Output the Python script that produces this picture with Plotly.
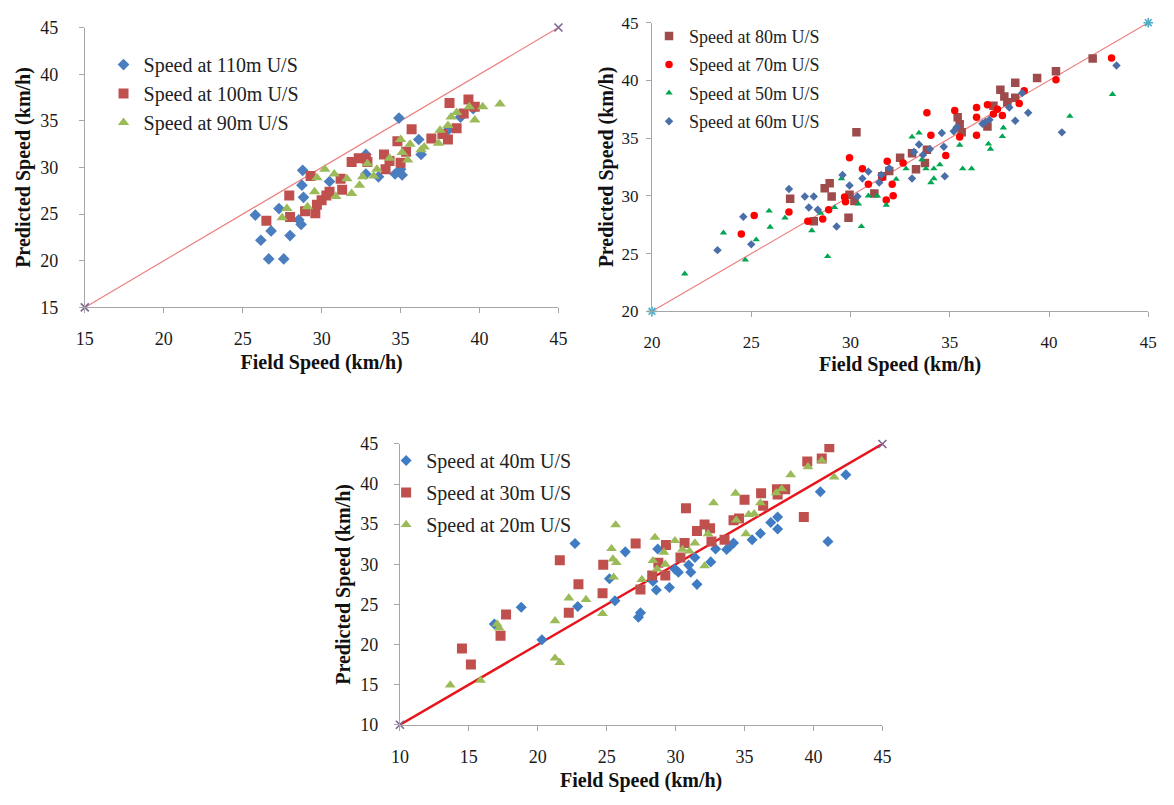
import plotly.graph_objects as go

# ---------------- data: top-left panel ----------------
s110_x = [25.8, 26.15, 26.65, 26.8, 27.3, 27.6, 28.0, 28.55, 28.7, 28.75, 28.8, 28.85, 30.5, 32.8, 32.8, 33.6, 34.65, 34.9, 35.0, 35.1, 36.15, 36.3, 38.0, 38.8, 39.6]
s110_y = [24.9, 22.2, 20.2, 23.2, 25.6, 20.2, 22.7, 24.4, 23.9, 28.1, 29.7, 26.8, 28.5, 29.3, 31.4, 29.0, 29.3, 35.3, 29.8, 29.2, 33.0, 31.4, 34.0, 35.4, 36.3]
s100_x = [26.5, 27.95, 28.0, 29.3, 28.95, 29.6, 29.7, 30.0, 30.3, 30.5, 31.2, 31.3, 31.9, 32.35, 32.8, 32.9, 33.95, 34.05, 34.3, 34.8, 35.0, 35.35, 35.7, 36.95, 37.65, 38.0, 38.1, 38.55, 39.0, 39.3, 39.7]
s100_y = [24.3, 27.0, 24.7, 29.1, 25.3, 25.1, 26.0, 26.5, 27.0, 27.4, 28.8, 27.6, 30.6, 31.0, 31.0, 30.6, 31.4, 29.8, 30.7, 32.8, 30.5, 31.7, 34.1, 33.1, 33.6, 33.0, 36.9, 34.2, 35.8, 37.3, 36.5]
s90_x = [27.5, 27.8, 29.1, 29.7, 29.55, 30.2, 30.8, 30.9, 31.6, 31.9, 32.4, 32.6, 32.9, 33.3, 33.5, 34.3, 35.0, 35.1, 35.45, 35.6, 36.3, 36.5, 37.4, 37.5, 38.0, 38.2, 38.55, 39.35, 39.7, 40.2, 41.3]
s90_y = [24.6, 25.6, 25.8, 28.9, 27.4, 29.8, 29.3, 26.9, 28.8, 27.2, 28.1, 29.0, 30.4, 29.1, 29.8, 31.0, 33.0, 31.6, 30.8, 32.5, 31.9, 32.2, 32.6, 34.0, 34.5, 35.4, 35.9, 36.5, 35.1, 36.5, 36.8]

# ---------------- data: top-right panel ----------------
s80_x = [26.96, 28.15, 28.7, 28.95, 29.05, 29.9, 29.95, 30.2, 30.3, 31.2, 31.6, 31.95, 32.5, 33.1, 33.3, 33.75, 33.85, 35.4, 35.5, 35.6, 36.9, 37.2, 37.55, 37.75, 37.9, 38.3, 38.3, 39.4, 40.35, 42.2]
s80_y = [29.75, 27.8, 30.65, 31.1, 29.95, 28.1, 30.1, 29.55, 35.5, 30.2, 31.7, 32.15, 33.3, 33.7, 32.3, 32.85, 34.0, 36.8, 36.2, 35.5, 36.0, 37.8, 39.2, 38.6, 38.1, 39.8, 38.5, 40.2, 40.8, 41.9]
s70_x = [24.5, 25.15, 26.9, 27.85, 28.6, 28.9, 29.7, 29.75, 29.95, 30.6, 30.9, 31.6, 31.8, 31.85, 32.1, 32.15, 32.65, 33.85, 34.05, 34.8, 35.25, 35.5, 36.35, 36.35, 36.35, 36.9, 37.2, 37.4, 37.65, 38.5, 38.75, 40.35, 43.15]
s70_y = [26.7, 28.3, 28.6, 27.8, 28.0, 28.8, 29.9, 29.5, 33.3, 32.35, 31.0, 31.6, 29.65, 33.0, 31.0, 30.0, 32.85, 37.2, 35.25, 33.5, 37.4, 35.1, 37.65, 36.8, 35.25, 37.9, 37.1, 37.5, 36.95, 38.0, 39.1, 40.05, 41.95]
s50_x = [21.65, 23.6, 24.7, 25.25, 25.9, 25.95, 26.7, 28.05, 28.5, 28.85, 29.2, 29.55, 30.4, 30.55, 30.9, 31.35, 31.8, 32.3, 32.8, 33.1, 33.45, 33.6, 33.8, 34.05, 34.2, 34.2, 34.5, 35.5, 35.65, 36.1, 36.95, 37.05, 37.65, 37.7, 41.05, 43.2]
s50_y = [23.25, 26.8, 24.45, 26.2, 28.7, 27.3, 28.1, 27.0, 28.5, 24.75, 29.0, 31.5, 29.3, 27.35, 30.0, 30.0, 29.2, 31.45, 32.35, 35.1, 35.45, 33.15, 32.35, 31.15, 32.35, 31.5, 32.7, 34.4, 32.35, 32.35, 34.5, 34.05, 35.15, 35.9, 36.9, 38.8]
s60_x = [23.3, 24.6, 25.0, 26.9, 27.7, 27.9, 28.15, 28.35, 29.3, 29.6, 29.95, 30.35, 30.6, 30.9, 31.45, 31.55, 31.95, 33.1, 33.2, 33.45, 33.65, 34.0, 34.6, 34.7, 34.75, 35.2, 35.35, 36.65, 36.8, 37.0, 38.0, 38.3, 38.65, 38.95, 40.65, 43.4]
s60_y = [25.3, 28.2, 25.8, 30.6, 29.95, 29.0, 29.95, 28.8, 27.35, 31.8, 30.9, 29.95, 31.5, 32.1, 31.15, 31.8, 32.4, 31.5, 33.8, 34.45, 33.55, 34.05, 35.45, 34.25, 31.7, 35.6, 35.95, 36.25, 36.4, 36.6, 37.65, 36.5, 38.9, 37.2, 35.5, 41.3]

# ---------------- data: bottom panel ----------------
s40_x = [16.85, 18.8, 20.3, 22.7, 22.9, 25.2, 25.6, 26.35, 27.3, 27.45, 28.35, 28.6, 28.7, 29.55, 29.95, 30.2, 30.95, 31.1, 31.4, 31.55, 32.55, 32.9, 33.7, 33.95, 34.2, 35.55, 36.15, 36.9, 37.4, 37.4, 40.5, 41.05, 42.35]
s40_y = [22.55, 24.65, 20.6, 32.6, 24.75, 28.2, 25.45, 31.55, 23.4, 23.95, 27.9, 26.8, 31.9, 27.1, 29.4, 29.0, 29.9, 29.0, 30.85, 27.5, 30.3, 31.9, 31.85, 32.25, 32.65, 33.05, 33.85, 35.2, 35.9, 34.4, 39.05, 32.85, 41.15]
s30_x = [14.5, 15.15, 17.3, 17.7, 21.6, 22.25, 22.95, 24.7, 24.75, 27.1, 27.45, 28.3, 28.75, 29.25, 29.3, 30.35, 30.65, 30.75, 31.55, 32.1, 32.5, 32.6, 33.55, 34.2, 34.6, 35.0, 36.2, 36.35, 37.35, 37.4, 37.95, 39.3, 39.55, 40.6, 41.15]
s30_y = [19.5, 17.5, 21.1, 23.75, 30.5, 23.95, 27.5, 26.4, 29.95, 32.6, 26.85, 28.6, 30.2, 28.6, 32.4, 30.85, 32.65, 37.0, 34.15, 34.95, 34.5, 32.85, 33.05, 35.5, 35.7, 38.05, 38.85, 37.3, 39.35, 38.7, 39.35, 35.9, 42.8, 43.2, 44.6]
s20_x = [13.65, 15.85, 17.05, 17.2, 21.25, 21.6, 21.25, 22.25, 23.5, 24.7, 25.35, 25.45, 25.5, 25.7, 25.65, 27.55, 28.35, 28.5, 28.65, 29.15, 29.25, 29.95, 30.5, 31.0, 31.4, 32.1, 32.35, 32.75, 34.35, 34.4, 35.1, 35.3, 35.7, 36.15, 37.3, 37.7, 38.35, 39.6, 40.6, 41.5]
s20_y = [14.95, 15.55, 22.55, 22.05, 18.3, 17.75, 22.95, 25.8, 25.6, 23.85, 31.95, 30.65, 28.4, 30.2, 34.9, 28.1, 30.45, 33.35, 29.4, 31.5, 30.0, 32.95, 31.85, 31.65, 32.65, 29.8, 33.8, 37.65, 38.85, 35.5, 33.8, 36.2, 36.3, 37.65, 38.9, 39.4, 41.15, 42.15, 42.95, 40.85]

# reference (1:1) lines
line1 = [15, 45]
line2 = [20, 45]
line3 = [10, 45]

tick1 = [15, 20, 25, 30, 35, 40, 45]
tick2 = [20, 25, 30, 35, 40, 45]
tick3 = [10, 15, 20, 25, 30, 35, 40, 45]

W, H = 1174, 805
FONT = "Liberation Serif"

def xd(a, b):
    return [a / W, b / W]

def yd(top, bottom):
    return [1 - bottom / H, 1 - top / H]

fig = go.Figure()

def pts(x, y, name, sym, color, size, xa, ya, leg, grp):
    fig.add_trace(go.Scatter(
        x=x, y=y, mode="markers", name=name, xaxis=xa, yaxis=ya,
        legend=leg, legendgroup=grp,
        marker=dict(symbol=sym, color=color, size=size, line=dict(width=0)),
    ))

def ref(v, xa, ya, lcolor, lwidth, msym, mcolor):
    fig.add_trace(go.Scatter(
        x=v, y=v, mode="lines+markers", xaxis=xa, yaxis=ya, showlegend=False,
        cliponaxis=False, hoverinfo="skip",
        line=dict(color=lcolor, width=lwidth),
        marker=dict(symbol=msym, size=8, color=mcolor, line=dict(color=mcolor, width=1.6)),
    ))

# top-left
ref(line1, "x", "y", "#ec8080", 1.2, "x-thin", "#7b6496")
pts(s110_x, s110_y, "Speed at 110m U/S", "diamond", "#4a7ebf", 9, "x", "y", "legend", "a1")
pts(s100_x, s100_y, "Speed at 100m U/S", "square", "#c0504d", 10, "x", "y", "legend", "a2")
pts(s90_x, s90_y, "Speed at 90m U/S", "triangle-up", "#9bbb59", 10, "x", "y", "legend", "a3")

# top-right
ref(line2, "x2", "y2", "#ec8080", 1.2, "asterisk-open", "#4bacc6")
pts(s80_x, s80_y, "Speed at 80m U/S", "square", "#9e4b4b", 8.5, "x2", "y2", "legend2", "b1")
pts(s70_x, s70_y, "Speed at 70m U/S", "circle", "#ff0000", 7.5, "x2", "y2", "legend2", "b2")
pts(s50_x, s50_y, "Speed at 50m U/S", "triangle-up", "#00a651", 6.5, "x2", "y2", "legend2", "b3")
pts(s60_x, s60_y, "Speed at 60m U/S", "diamond", "#4a6ea8", 6.5, "x2", "y2", "legend2", "b4")

# bottom
ref(line3, "x3", "y3", "#e8141c", 2.5, "x-thin", "#7b6496")
pts(s40_x, s40_y, "Speed at 40m U/S", "diamond", "#3f7cc4", 8.5, "x3", "y3", "legend3", "c1")
pts(s30_x, s30_y, "Speed at 30m U/S", "square", "#c0504d", 10, "x3", "y3", "legend3", "c2")
pts(s20_x, s20_y, "Speed at 20m U/S", "triangle-up", "#9bbb59", 9.5, "x3", "y3", "legend3", "c3")

title_font = dict(family=FONT, size=20, color="#111111")

def axis_common(fs):
    return dict(
        showgrid=False, zeroline=False, showline=True, linecolor="#a6a6a6", linewidth=1,
        ticks="outside", ticklen=5, tickcolor="#a6a6a6", tickwidth=1,
        tickfont=dict(family=FONT, size=fs, color="#1a1a1a"),
    )

def xaxis(dom, rng, tv, anchor, fs, tso, so):
    return dict(axis_common(fs), domain=dom, range=rng, tickvals=tv, anchor=anchor,
                ticklabelstandoff=tso,
                title=dict(text="<b>Field Speed (km/h)</b>", font=title_font, standoff=so))

def yaxis(dom, rng, tv, anchor, fs, tso, so):
    return dict(axis_common(fs), domain=dom, range=rng, tickvals=tv, anchor=anchor,
                ticklabelstandoff=tso,
                title=dict(text="<b>Predicted Speed (km/h)</b>", font=title_font, standoff=so))

def leg(x, y, fs, gap):
    return dict(x=x / W, y=1 - y / H, xanchor="left", yanchor="top",
                font=dict(family=FONT, size=fs, color="#222222"),
                bgcolor="rgba(0,0,0,0)", tracegroupgap=gap, traceorder="grouped")

fig.update_layout(
    width=W, height=H, margin=dict(l=0, r=0, t=0, b=0),
    paper_bgcolor="white", plot_bgcolor="white",
    xaxis=xaxis(xd(77, 558), [15, 45], tick1, "y", 18, 10, 6),
    yaxis=yaxis(yd(18, 305), [15, 45], tick1, "x", 18, 17, 4),
    xaxis2=xaxis(xd(653, 1157), [20, 45], tick2, "y2", 17, 10, 6),
    yaxis2=yaxis(yd(13, 309), [20, 45], tick2, "x2", 17, 4, 2),
    xaxis3=xaxis(xd(397, 887), [10, 45], tick3, "y3", 18, 11, 6),
    yaxis3=yaxis(yd(445, 733), [10, 45], tick3, "x3", 18, 12, 4),
    legend=leg(96, 36, 20, 0),
    legend2=leg(650, 8, 18, 2),
    legend3=leg(383, 442, 20, 3),
)

fig.write_html("out.html")
